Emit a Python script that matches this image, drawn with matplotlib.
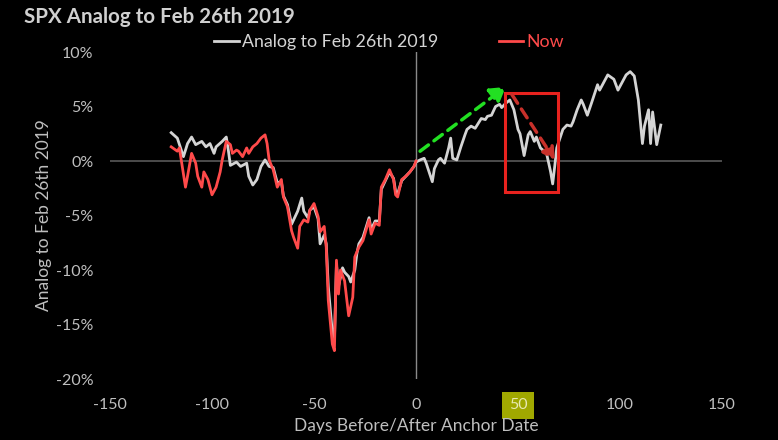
import matplotlib
matplotlib.use("Agg")
import matplotlib.pyplot as plt
from matplotlib.patches import Rectangle, FancyArrowPatch

plt.rcParams["font.family"] = ["Lato", "DejaVu Sans"]

# --- data: (days from anchor, % change) ---
analog = [(-120, 2.6), (-117, 2.1), (-114, 0.4), (-112, 1.6), (-110, 2.2), (-108, 1.5),
          (-105, 1.8), (-103, 1.3), (-101, 1.6), (-99, 0.7), (-98, 1.3), (-95, 1.8),
          (-93, 2.2), (-92, 1.0), (-91, -0.4), (-88, -0.1), (-86, -0.5), (-83, -0.2),
          (-82, -1.4), (-80, -2.2), (-78, -1.7), (-76, -0.5), (-74, 0.1), (-72, -0.5),
          (-70, -0.6), (-68, -2.0), (-66, -1.9), (-65, -3.2), (-63, -4.0), (-61, -5.8),
          (-60, -5.4), (-58, -4.6), (-56, -3.4), (-55, -4.6), (-53, -5.2), (-52, -4.5),
          (-50, -4.2), (-48, -5.3), (-47, -7.6), (-45, -6.8), (-44, -7.6), (-43, -11.5),
          (-41, -15.8), (-40, -16.5), (-39, -9.5), (-38, -11.5), (-36, -9.8), (-35, -10.2),
          (-33, -10.6), (-32, -11.1), (-30, -10.0), (-29, -8.5), (-28, -7.6), (-26, -7.0),
          (-23, -5.2), (-22, -6.3), (-20, -5.5), (-18, -5.5), (-17, -2.6), (-15, -1.8),
          (-13, -1.0), (-11, -1.6), (-10, -2.8), (-9, -3.0), (-7, -1.8), (-5, -1.4),
          (-3, -1.0), (-1, -0.5), (0, -0.1), (2, 0.1), (4, 0.25), (5, -0.2), (8, -1.9),
          (9, -0.7), (11, 0.1), (12, 0.25), (14, -0.2), (16, 1.2), (17, 2.1), (18, 0.25),
          (20, 0.1), (22, 1.3), (24, 2.4), (25, 2.9), (27, 3.2), (29, 3.0), (30, 3.3),
          (32, 3.9), (34, 3.8), (35, 4.1), (37, 4.2), (39, 5.0), (41, 5.2), (42, 4.9),
          (44, 5.3), (46, 5.6), (48, 4.7), (50, 2.9), (51, 2.5), (53, 0.5), (55, 2.4),
          (56, 2.7), (58, 1.8), (59, 2.2), (61, 1.2), (64, 0.7), (66, -1.0), (67, -2.1),
          (68, -0.5), (69, 1.2), (72, 2.9), (74, 3.3), (76, 3.2), (77, 3.6), (79, 4.7),
          (81, 5.6), (82, 5.2), (84, 4.2), (86, 5.3), (89, 7.0), (90, 6.5), (92, 7.2),
          (94, 7.9), (97, 7.5), (99, 6.5), (101, 7.2), (103, 7.9), (105, 8.2), (107, 7.8),
          (109, 5.6), (111, 1.6), (112, 3.2), (114, 4.7), (115, 1.6), (116, 4.5),
          (118, 1.5), (120, 3.3)]

now = [(-120, 1.3), (-117, 0.9), (-116, 1.2), (-113, -2.4), (-112, -1.4), (-110, 0.7),
       (-108, -0.2), (-107, -1.4), (-105, -2.4), (-104, -1.0), (-102, -1.7), (-100, -3.1),
       (-98, -2.4), (-96, -1.0), (-95, 0.1), (-93, 1.8), (-91, 1.5), (-90, 0.7), (-88, 1.0),
       (-87, 0.9), (-85, 0.4), (-83, 1.2), (-82, 0.7), (-80, 1.3), (-78, 1.6), (-76, 2.1),
       (-74, 2.4), (-73, 1.6), (-72, 0.1), (-70, -0.8), (-68, -2.4), (-66, -1.7),
       (-65, -3.3), (-63, -4.2), (-61, -6.4), (-60, -7.0), (-58, -8.0), (-57, -6.0),
       (-55, -5.4), (-53, -5.6), (-52, -4.5), (-50, -3.9), (-48, -5.1), (-47, -6.5),
       (-45, -6.0), (-44, -7.9), (-43, -12.8), (-41, -16.8), (-40, -17.4), (-39, -9.1),
       (-38, -12.2), (-37, -10.0), (-35, -11.0), (-33, -14.2), (-31, -12.5), (-30, -8.8),
       (-28, -7.9), (-26, -7.3), (-23, -5.4), (-22, -6.7), (-20, -5.7), (-18, -5.9),
       (-17, -2.4), (-15, -1.7), (-13, -0.8), (-11, -1.7), (-10, -3.1), (-9, -3.3),
       (-7, -1.7), (-5, -1.4), (-3, -1.0), (-1, -0.5), (0, 0.0)]

analog_days = [d for d, _ in analog]
analog_vals = [v for _, v in analog]
now_days = [d for d, _ in now]
now_vals = [v for _, v in now]

# annotations: rally arrow, pullback arrow, highlighted window
up_arrow = [(2, 0.9), (44, 6.8)]
down_arrow = [(47, 6.1), (68, 0.1)]
box_days = (43.6, 69.8)
box_vals = (-2.8, 6.2)

x_ticks = [-150, -100, -50, 0, 50, 100, 150]
y_ticks = [-20, -15, -10, -5, 0, 5, 10]

BG = "black"
TXT = "#bfbfbf"
GRAY = "#d4d4d4"
RED = "#ff4a4a"

fig = plt.figure(figsize=(7.78, 4.40), dpi=100, facecolor=BG)
ax = fig.add_axes([0.1414, 0.1386, 0.7866, 0.7432], facecolor=BG)

ax.axhline(0, color="#5a5a5a", lw=1.2, zorder=1)
ax.axvline(0, color="#8a8a8a", lw=1.0, zorder=1)

ax.plot(analog_days, analog_vals, color=GRAY, lw=2, label="Analog to Feb 26th 2019", zorder=3)
ax.plot(now_days, now_vals, color=RED, lw=2, label="Now", zorder=4)

ax.add_patch(Rectangle((box_days[0], box_vals[0]), box_days[1] - box_days[0],
                       box_vals[1] - box_vals[0], fill=False, edgecolor="#e8221e",
                       lw=2.2, zorder=5))
ax.add_patch(FancyArrowPatch(up_arrow[0], up_arrow[1], arrowstyle="-|>,head_length=9,head_width=5.5",
                             color="#22e022", lw=2.5, linestyle=(0, (3, 2)), zorder=6,
                             shrinkA=0, shrinkB=0))
ax.add_patch(FancyArrowPatch(down_arrow[0], down_arrow[1], arrowstyle="-|>,head_length=7,head_width=4",
                             color="#c8302a", lw=2.5, linestyle=(0, (3, 2)), zorder=6,
                             shrinkA=0, shrinkB=0))

ax.set_xlim(-150, 150)
ax.set_ylim(-20, 10)
ax.set_xticks(x_ticks)
ax.set_yticks(y_ticks)
ax.set_xticklabels([str(t) for t in x_ticks])
ax.set_yticklabels([f"{t}%" for t in y_ticks])
ax.tick_params(colors=TXT, labelsize=11.5, length=0)
ax.tick_params(axis="x", pad=14)
ax.tick_params(axis="y", pad=12)
for s in ax.spines.values():
    s.set_visible(False)

# highlighted "50" tick label
for lbl in ax.get_xticklabels():
    if lbl.get_text() == "50":
        lbl.set_color("#e8e8b0")
        lbl.set_bbox(dict(facecolor="#a0a800", edgecolor="none", pad=5))

ax.set_xlabel("Days Before/After Anchor Date", color=TXT, fontsize=12.5, labelpad=4)
ax.set_ylabel("Analog to Feb 26th 2019", color=TXT, fontsize=12.5, labelpad=3)

fig.text(0.031, 0.962, "SPX Analog to Feb 26th 2019", color="#d0d0d0", fontsize=14.8,
         fontweight="bold", va="center", ha="left")

leg = ax.legend(loc="center", bbox_to_anchor=(0.5, 0.905), bbox_transform=fig.transFigure,
                ncol=2, frameon=False, fontsize=12.8, handlelength=1.4, handletextpad=0.15,
                columnspacing=3.4, labelcolor="linecolor")

fig.savefig("out.png", dpi=100, facecolor=BG)
